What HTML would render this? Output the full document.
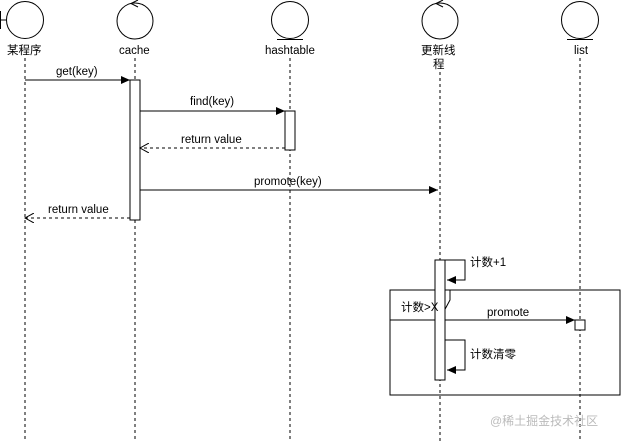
<!DOCTYPE html>
<html><head><meta charset="utf-8"><style>
body{margin:0;background:#fff}
svg text{font-family:"Liberation Sans","Noto Sans CJK SC",sans-serif;font-size:11.5px;fill:#000}
</style></head><body>
<svg width="621" height="441" xmlns="http://www.w3.org/2000/svg">
<defs>
<marker id="a" markerWidth="10" markerHeight="8" refX="9" refY="4" orient="auto" markerUnits="userSpaceOnUse"><path d="M0,0 L9,4 L0,8 Z" fill="#000"/></marker>
<marker id="o" markerWidth="10" markerHeight="10" refX="9" refY="5" orient="auto" markerUnits="userSpaceOnUse"><path d="M0,0 L9,5 L0,10" fill="none" stroke="#000"/></marker>
</defs>
<g stroke="#000" fill="none" stroke-width="1">
<g stroke-dasharray="3,3">
<line x1="25" y1="58" x2="25" y2="441"/>
<line x1="135" y1="58" x2="135" y2="441"/>
<line x1="290" y1="58" x2="290" y2="441"/>
<line x1="440" y1="72" x2="440" y2="441"/>
<line x1="580" y1="58" x2="580" y2="441"/>
</g>
<circle cx="25" cy="20" r="18.5" fill="#fff"/><line x1="0" y1="20" x2="6" y2="20"/><line x1="0.5" y1="11" x2="0.5" y2="29"/>
<circle cx="135" cy="21" r="18" fill="#fff"/><path d="M138,0 L131,3.5 L138,7"/>
<circle cx="290" cy="20" r="18.5" fill="#fff"/><line x1="277" y1="39.5" x2="303" y2="39.5"/>
<circle cx="440" cy="21" r="18" fill="#fff"/><path d="M443,0 L436,3.5 L443,7"/>
<circle cx="580" cy="20" r="18.5" fill="#fff"/><line x1="567" y1="39.5" x2="593" y2="39.5"/>
<rect x="130" y="80" width="10" height="140" fill="#fff"/>
<rect x="285" y="111" width="10" height="39" fill="#fff"/>
<line x1="25" y1="80" x2="130" y2="80" marker-end="url(#a)"/>
<line x1="140" y1="111" x2="285" y2="111" marker-end="url(#a)"/>
<line x1="285" y1="148" x2="140" y2="148" stroke-dasharray="3,3" marker-end="url(#o)"/>
<line x1="140" y1="190" x2="438" y2="190" marker-end="url(#a)"/>
<line x1="130" y1="218" x2="25" y2="218" stroke-dasharray="3,3" marker-end="url(#o)"/>
<rect x="390" y="290" width="230" height="105"/>
<path d="M390,320 L443,320 L443,313 L450,300 L450,290"/>
<rect x="435" y="260" width="10" height="120" fill="#fff"/>
<path d="M445,260 L465,260 L465,280 L447,280" marker-end="url(#a)"/>
<path d="M445,340 L465,340 L465,370 L447,370" marker-end="url(#a)"/>
<line x1="445" y1="320" x2="575" y2="320" marker-end="url(#a)"/>
<rect x="575" y="320" width="10" height="10" fill="#fff"/>
</g>
<text x="7" y="54">某程序</text>
<text x="119" y="54">cache</text>
<text x="265" y="54">hashtable</text>
<text x="421" y="54">更新线</text>
<text x="433" y="68">程</text>
<text x="574" y="54">list</text>
<text x="56" y="75">get(key)</text>
<text x="190" y="105">find(key)</text>
<text x="181" y="143">return value</text>
<text x="254" y="185">promote(key)</text>
<text x="48" y="213">return value</text>
<text x="470" y="266">计数+1</text>
<text x="401" y="311">计数>X</text>
<text x="487" y="316">promote</text>
<text x="470" y="358">计数清零</text>
<text x="490" y="425" style="fill:#bbb;font-size:12px">@稀土掘金技术社区</text>
</svg>
</body></html>
